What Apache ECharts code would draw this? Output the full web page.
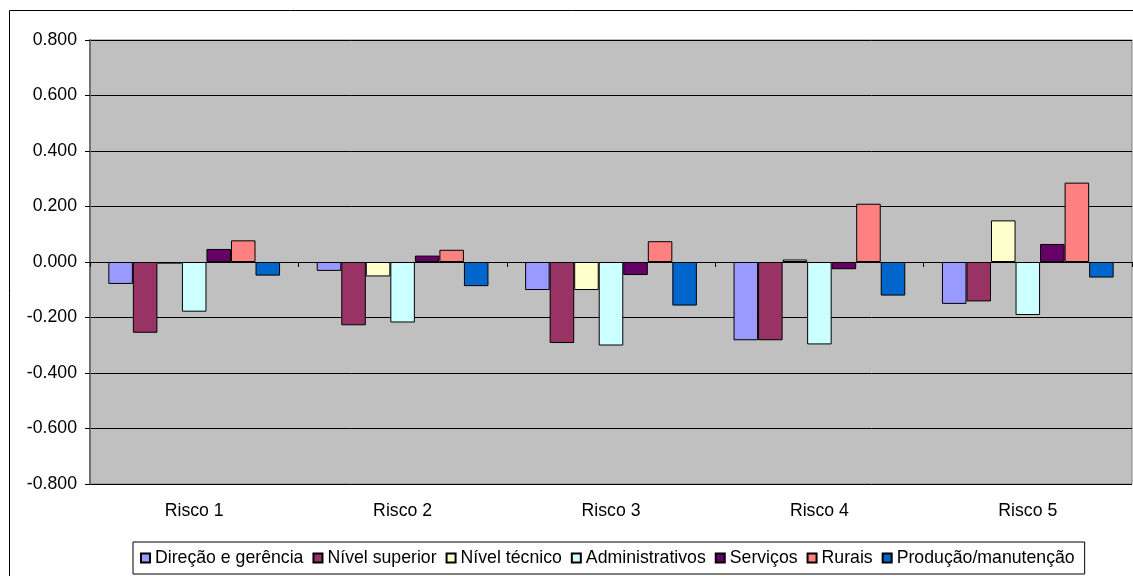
<!DOCTYPE html>
<html>
<head>
<meta charset="utf-8">
<script src="https://cdn.jsdelivr.net/npm/echarts@6/dist/echarts.min.js"></script>
<style>
  html, body { margin: 0; padding: 0; background: #fff; }
  #chart { width: 1133px; height: 576px; }
</style>
</head>
<body>
<div id="chart"></div>
<script>
// Risk categories along the horizontal axis
var categories = ['Risco 1', 'Risco 2', 'Risco 3', 'Risco 4', 'Risco 5'];

// One series per occupational group
var direcao = [-0.079, -0.032, -0.101, -0.282, -0.151];
var nivelSuperior = [-0.255, -0.228, -0.292, -0.282, -0.142];
var nivelTecnico = [-0.006, -0.052, -0.101, 0.009, 0.150];
var administrativos = [-0.179, -0.218, -0.301, -0.297, -0.191];
var servicos = [0.047, 0.023, -0.047, -0.026, 0.065];
var rurais = [0.078, 0.044, 0.075, 0.210, 0.286];
var producao = [-0.049, -0.087, -0.157, -0.121, -0.056];

var seriesNames = ['Direção e gerência', 'Nível superior', 'Nível técnico',
  'Administrativos', 'Serviços', 'Rurais', 'Produção/manutenção'];
var seriesValues = [direcao, nivelSuperior, nivelTecnico, administrativos,
  servicos, rurais, producao];
var seriesColors = ['#9999FF', '#993366', '#FFFFCC', '#CCFFFF', '#660066', '#FF8080', '#0066CC'];

// Value axis range and step
var yMin = -0.8, yMax = 0.8, yStep = 0.2;

var FONT = '"Liberation Sans", Arial, sans-serif';
var FS = 17.7;

var chart = echarts.init(document.getElementById('chart'), null, { renderer: 'canvas' });

var series = seriesNames.map(function (name, i) {
  return {
    name: name,
    type: 'bar',
    xAxisIndex: 0,
    data: seriesValues[i],
    barGap: '0%',
    barCategoryGap: '17.6%',
    itemStyle: { color: seriesColors[i], borderColor: '#000', borderWidth: 1 },
    emphasis: { disabled: true }
  };
});

chart.setOption({
  animation: false,
  backgroundColor: '#ffffff',
  textStyle: { fontFamily: FONT },
  grid: {
    left: 90, top: 40, width: 1042, height: 444,
    show: true,
    backgroundColor: '#C0C0C0',
    borderColor: '#808080',
    borderWidth: 1
  },
  legend: {
    left: 133, top: 542,
    padding: [7, 10, 7, 7],
    borderColor: '#000', borderWidth: 1,
    itemWidth: 9, itemHeight: 9, itemGap: 9,
    icon: 'rect',
    textStyle: { fontSize: FS, color: '#000', fontFamily: FONT },
    data: seriesNames
  },
  xAxis: [
    {
      // axis line crossing at zero, with boundary ticks
      type: 'category',
      data: categories,
      position: 'bottom',
      axisLine: { show: true, onZero: true, lineStyle: { color: '#000', width: 1 } },
      axisTick: { show: true, length: 5, lineStyle: { color: '#000' } },
      axisLabel: { show: false },
      splitLine: { show: false }
    },
    {
      // category names along the bottom of the plot
      type: 'category',
      data: categories,
      position: 'bottom',
      axisLine: { show: false, onZero: false },
      axisTick: { show: false },
      axisLabel: { show: true, fontSize: FS, color: '#000', margin: 18, fontFamily: FONT },
      splitLine: { show: false }
    }
  ],
  yAxis: {
    type: 'value',
    min: yMin, max: yMax, interval: yStep,
    axisLine: { show: true, lineStyle: { color: '#707070', width: 2 } },
    axisTick: { show: true, length: 5, lineStyle: { color: '#000' } },
    axisLabel: {
      fontSize: FS, color: '#000', margin: 13, fontFamily: FONT,
      formatter: function (v) { return v.toFixed(3); }
    },
    splitLine: { show: true, lineStyle: { color: '#000', width: 1 } }
  },
  graphic: [{
    type: 'rect',
    silent: true,
    shape: { x: 9.5, y: 10.5, width: 1200, height: 700 },
    style: { fill: 'none', stroke: '#000', lineWidth: 1 }
  }],
  series: series
});
</script>
</body>
</html>
